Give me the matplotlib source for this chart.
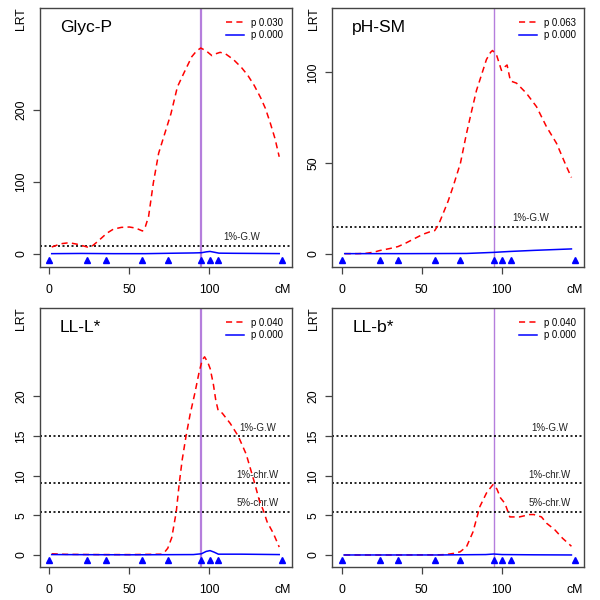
import matplotlib
matplotlib.use("Agg")
import matplotlib.pyplot as plt

plt.rcParams["font.family"] = ["Liberation Sans", "DejaVu Sans"]

# marker positions (cM) and QTL position
markers = [0, 23.8, 35.2, 58.1, 74, 95, 100.4, 105.6, 145.6]
qtl_pos = 95

# Glyc-P
glyc_red_x = [1.5, 5, 8, 11, 14, 17, 20, 23.8, 27, 30, 33, 36, 40, 45, 50, 54, 58.2, 60, 62,
              65, 68.3, 72.5, 76, 80, 84, 89, 92, 94.6, 98, 101.5, 104, 106.7, 110, 115, 120,
              124, 128, 132, 135, 138, 141, 143.6]
glyc_red_y = [9.7, 12.5, 14.5, 15.3, 15, 13.8, 12, 9.7, 11.5, 17, 23, 29, 34.5, 37, 37.5, 36, 32, 38, 52,
              99, 140, 170, 195, 232, 251, 274, 282, 286, 282, 275.5, 278, 280, 278, 270, 259,
              248, 234, 217, 202, 182, 160, 135]
glyc_blue_x = [1.5, 20, 40, 60, 80, 90, 95, 98, 100.4, 103, 106, 115, 130, 143.6]
glyc_blue_y = [0.5, 0.8, 0.5, 0.5, 1.2, 1.5, 1.8, 3, 3.6, 2.5, 1.2, 1, 0.8, 0.6]

# pH-SM
ph_red_x = [1.9, 10, 15.4, 20, 23.75, 30, 35.2, 40, 44.6, 50.8, 55, 58.1, 60.5, 63.3, 66.5, 69.6,
            74.2, 77.9, 81, 84.2, 87.5, 90.4, 93, 94.2, 96.7, 99.8, 101.9, 103.3, 105.4, 109.2,
            115.4, 121.7, 127.9, 134.2, 140.4, 143.5]
ph_red_y = [0, 0, 0.2, 0.8, 1.7, 2.8, 3.9, 5.8, 7.9, 10.7, 12, 12.7, 16, 22, 29, 37,
            50, 66, 78, 90, 99, 107, 111, 112, 109.6, 101, 103, 104, 95.2, 94,
            88.4, 81, 70, 60.8, 48, 42]
ph_blue_x = [1.9, 40, 78, 95, 105, 120, 143.5]
ph_blue_y = [0, 0, 0.1, 0.7, 1.2, 1.8, 2.6]

# LL-L*
ll_red_x = [1.5, 10, 30, 50, 70, 72, 74, 76.5, 79.3, 81.2, 83, 85.4, 88, 91, 93.5, 95.5, 97, 99,
            100.5, 102.5, 104, 105.5, 108, 113, 118, 123, 128.2, 131, 134, 136, 140, 143.6]
ll_red_y = [0.15, 0.08, 0.05, 0.05, 0.1, 0.35, 0.85, 2.2, 5.45, 9.1, 12, 15, 17.8, 20.5, 23, 24.6, 25, 24.3,
            23.5, 21.5, 19.5, 18.2, 17.9, 16.6, 15, 12.7, 9.1, 7, 5.45, 4.2, 2.7, 1.0]
ll_blue_x = [1.5, 50, 90, 95, 98, 100.4, 103, 105.6, 120, 143.6]
ll_blue_y = [0.05, 0.02, 0.05, 0.15, 0.45, 0.55, 0.35, 0.1, 0.1, 0.05]

# LL-b*
lb_red_x = [1.5, 30, 60, 65, 70, 74, 78, 82, 86.3, 90.4, 93, 94.6, 97, 99.2, 102, 105, 111, 117.5,
            120, 124.8, 128, 133, 138, 143.5]
lb_red_y = [0, 0, 0.02, 0.05, 0.2, 0.4, 1.05, 2.9, 6.1, 7.8, 8.5, 8.9, 8.3, 7.2, 6.5, 4.8, 4.8, 5.1,
            5.1, 4.8, 4.0, 3.2, 2.1, 1.1]
lb_blue_x = [1.5, 60, 90, 95, 100, 120, 143.5]
lb_blue_y = [0, 0, 0.05, 0.12, 0.05, 0.02, 0]

titles = ["Glyc-P", "pH-SM", "LL-L*", "LL-b*"]
p_red = ["p 0.030", "p 0.063", "p 0.040", "p 0.040"]
p_blue = ["p 0.000", "p 0.000", "p 0.000", "p 0.000"]
ylims = [(-17.6, 342), (-7.2, 135.6), (-1.48, 31.2), (-1.48, 31.2)]
yticks = [[0, 100, 200], [0, 50, 100], [0, 5, 10, 15, 20], [0, 5, 10, 15, 20]]
thr_vals = [[11.5], [14.9], [15, 9.05, 5.47], [15, 9.05, 5.47]]
thr_names = [["1%-G.W"], ["1%-G.W"], ["1%-G.W", "1%-chr.W", "5%-chr.W"],
             ["1%-G.W", "1%-chr.W", "5%-chr.W"]]
thr_label_x = [120, 118, 130, 130]

red_x = [glyc_red_x, ph_red_x, ll_red_x, lb_red_x]
red_y = [glyc_red_y, ph_red_y, ll_red_y, lb_red_y]
blue_x = [glyc_blue_x, ph_blue_x, ll_blue_x, lb_blue_x]
blue_y = [glyc_blue_y, ph_blue_y, ll_blue_y, lb_blue_y]

fig = plt.figure(figsize=(6, 6), dpi=100)
boxes = [[0.0667, 0.5555, 0.42, 0.4317], [0.554, 0.5555, 0.42, 0.4317],
         [0.0667, 0.0555, 0.42, 0.4317], [0.554, 0.0555, 0.42, 0.4317]]
purple_lw = [1.6, 1.0, 1.6, 1.0]

for i in range(4):
    ax = fig.add_axes(boxes[i])
    ax.set_xlim(-5.8, 151.6)
    ax.set_ylim(*ylims[i])

    ax.axvline(qtl_pos, color="#B57EDC", lw=purple_lw[i], zorder=1)

    for v, name in zip(thr_vals[i], thr_names[i]):
        ax.axhline(v, color="black", lw=1.2, linestyle=(0, (1.2, 1.5)), zorder=2)
        ax.annotate(name, (thr_label_x[i], v), xytext=(0, 6), textcoords="offset points",
                    ha="center", va="center", fontsize=7, color="#222222")

    ax.plot(red_x[i], red_y[i], color="red", lw=1.1, dashes=(4, 2.8), label=p_red[i], zorder=3)
    ax.plot(blue_x[i], blue_y[i], color="blue", lw=1.1, label=p_blue[i], zorder=3)

    ax.plot(markers, [0.026] * len(markers), linestyle="none", marker="^", ms=5,
            color="blue", transform=ax.get_xaxis_transform(), clip_on=False, zorder=4)

    ax.text(0.079, 0.923, titles[i], transform=ax.transAxes, fontsize=12.6,
            ha="left", va="center")
    ax.text(-0.0746, 1.0, "LRT", transform=ax.transAxes, fontsize=8.8, rotation=90,
            ha="center", va="top")
    ax.text(markers[-1], -0.09, "cM", transform=ax.get_xaxis_transform(), fontsize=8.8,
            ha="center", va="center")

    ax.legend(loc="upper right", bbox_to_anchor=(0.965, 0.962), frameon=False, fontsize=6.9,
              handlelength=1.9, handletextpad=0.7, labelspacing=0.3, borderaxespad=0,
              borderpad=0)

    ax.set_xticks([0, 50, 100])
    ax.set_yticks(yticks[i])
    ax.tick_params(axis="both", length=5, width=0.9, color="#444444", labelsize=8.8)
    ax.tick_params(axis="x", pad=7.4)
    ax.tick_params(axis="y", pad=4.2)
    for lab in ax.get_yticklabels():
        lab.set_rotation(90)
        lab.set_va("center")
    for s in ax.spines.values():
        s.set_color("#444444")
        s.set_linewidth(1.0)

fig.savefig("out.png", dpi=100)
